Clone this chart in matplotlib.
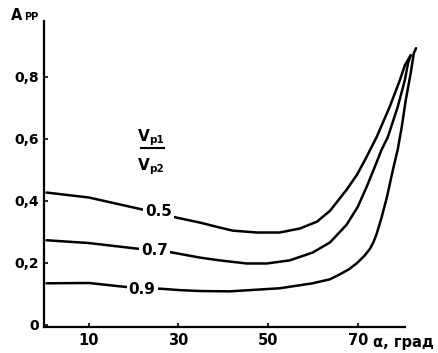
import matplotlib.pyplot as plt

plt.rcParams['font.family'] = ['DejaVu Sans']
plt.rcParams['font.weight'] = 'bold'

# значения
alpha_05 = [0.56, 10.0, 21.4, 29.6, 34.8, 39.2, 42.1, 47.5, 52.6, 57.1, 60.9, 63.8, 67.5,
            69.8, 71.6, 74.2, 77.1, 79.4, 80.5, 81.8]
a_05 = [0.426, 0.410, 0.373, 0.345, 0.329, 0.313, 0.303, 0.297, 0.297, 0.310, 0.332, 0.367, 0.435,
        0.483, 0.531, 0.605, 0.702, 0.789, 0.837, 0.869]

alpha_07 = [0.56, 10.0, 20.7, 28.4, 34.8, 39.2, 45.2, 49.7, 54.8, 59.9, 63.8, 67.5, 70.0,
            72.0, 73.8, 75.3, 76.7, 78.9, 80.5, 81.2, 81.8]
a_07 = [0.272, 0.263, 0.245, 0.233, 0.216, 0.207, 0.197, 0.197, 0.207, 0.232, 0.265, 0.322, 0.380,
        0.445, 0.509, 0.564, 0.605, 0.702, 0.789, 0.843, 0.869]

alpha_09 = [0.56, 10.0, 18.4, 26.5, 30.3, 35.0, 41.4, 52.6, 59.9, 63.8, 66.0, 68.0, 69.8, 71.5,
            72.7, 73.5, 74.2, 75.3, 76.5, 77.8, 78.9, 79.8, 80.7, 81.8, 82.5, 83.0]
a_09 = [0.133, 0.134, 0.121, 0.115, 0.111, 0.108, 0.107, 0.117, 0.133, 0.146, 0.162, 0.178, 0.198,
        0.222, 0.244, 0.266, 0.292, 0.345, 0.411, 0.497, 0.564, 0.637, 0.724, 0.811, 0.876, 0.892]

curve_labels = ['0.5', '0.7', '0.9']
label_x = [25.6, 24.6, 21.9]
label_y = [0.364, 0.239, 0.112]

x_ticks = [10, 30, 50, 70]
y_ticks = [0, 0.2, 0.4, 0.6, 0.8]
y_tick_labels = ['0', '0,2', '0,4', '0,6', '0,8']

fig = plt.figure(figsize=(4.39, 3.53), dpi=100)
ax = fig.add_axes([0.1002, 0.0737, 0.822, 0.867])

for xs, ys in [(alpha_05, a_05), (alpha_07, a_07), (alpha_09, a_09)]:
    ax.plot(xs, ys, color='black', lw=1.8, clip_on=False,
            solid_capstyle='round', solid_joinstyle='round')

for lab, lx, ly in zip(curve_labels, label_x, label_y):
    ax.text(lx, ly, lab, fontsize=11, fontweight='bold', ha='center', va='center',
            bbox=dict(facecolor='white', edgecolor='none', pad=1.5))

ax.set_xlim(0, 80.5)
ax.set_ylim(-0.008, 0.98)
ax.set_xticks(x_ticks)
ax.set_xticklabels([str(t) for t in x_ticks], fontweight='bold', fontsize=10.5)
ax.set_yticks(y_ticks)
ax.set_yticklabels(y_tick_labels, fontweight='bold', fontsize=10)
ax.tick_params(direction='in', length=3, width=1.2)
ax.tick_params(axis='x', pad=4)
ax.tick_params(axis='y', pad=3.5)

ax.spines['top'].set_visible(False)
ax.spines['right'].set_visible(False)
ax.spines['left'].set_linewidth(1.6)
ax.spines['bottom'].set_linewidth(1.6)

# подписи осей
fig.text(373 / 439, 1 - 347 / 353, 'α, град', fontsize=10.5, fontweight='bold',
         ha='left', va='baseline')
fig.text(11 / 439, 1 - 20 / 353, 'A', fontsize=10.5, fontweight='bold', ha='left', va='baseline')
fig.text(24.5 / 439, 1 - 20 / 353, 'PP', fontsize=7, fontweight='bold', ha='left', va='baseline')

# дробь Vp1 / Vp2
fig.text(138 / 439, 1 - 141 / 353, 'V', fontsize=11, fontweight='bold', ha='left', va='baseline')
fig.text(149.5 / 439, 1 - 143 / 353, 'p1', fontsize=7.5, fontweight='bold', ha='left', va='baseline')
fig.add_artist(plt.Line2D([141 / 439, 164 / 439], [1 - 148 / 353, 1 - 148 / 353],
                          color='black', lw=1.5))
fig.text(138 / 439, 1 - 170 / 353, 'V', fontsize=11, fontweight='bold', ha='left', va='baseline')
fig.text(149.5 / 439, 1 - 172 / 353, 'p2', fontsize=7.5, fontweight='bold', ha='left', va='baseline')

fig.savefig('out.png', dpi=100)
